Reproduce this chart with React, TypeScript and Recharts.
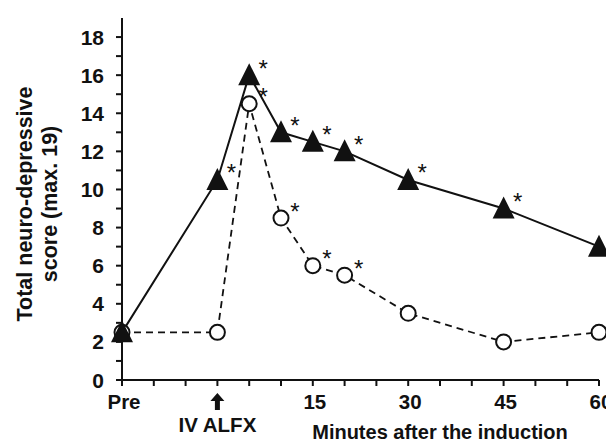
import React from 'react';
import { LineChart, Line, XAxis, YAxis } from 'recharts';

// minutes relative to IV ALFX injection (-15 = "Pre")
const minutes = [-15, 0, 5, 10, 15, 20, 30, 45, 60];
const triangleScores = [2.5, 10.5, 16, 13, 12.5, 12, 10.5, 9, 7];
const circleScores = [2.5, 2.5, 14.5, 8.5, 6, 5.5, 3.5, 2, 2.5];
const triangleSignificant = [false, true, true, true, true, true, true, true, false];
const circleSignificant = [false, false, true, true, true, true, false, false, false];

const xTickValues = [-15, -10, -5, 0, 5, 10, 15, 20, 25, 30, 35, 40, 45, 50, 55, 60];
const xTickLabels = ['Pre', '', '', 'IV ALFX', '', '', '15', '', '', '30', '', '', '45', '', '', '60'];
const injectionMinute = 0;
const yTickValues = [0, 1, 2, 3, 4, 5, 6, 7, 8, 9, 10, 11, 12, 13, 14, 15, 16, 17, 18];

const yLabelLines = ['Total neuro-depressive', 'score (max. 19)'];
const xTitle = 'Minutes after the induction';

const data = minutes.map((m, i) => ({
  minute: m,
  triangle: triangleScores[i],
  circle: circleScores[i],
  triSig: triangleSignificant[i],
  circSig: circleSignificant[i],
}));

const FONT = '"Liberation Sans", Arial, Helvetica, sans-serif';

const Star = ({ cx, cy }: { cx: number; cy: number }) => (
  <text x={cx + 14} y={cy + 1.5} textAnchor="middle" fontSize={24} fontFamily={FONT} fill="#111">
    *
  </text>
);

const TriangleDot = (props: any) => {
  const { cx, cy, payload, index } = props;
  if (cx == null || cy == null) return <g key={`t${index}`} />;
  return (
    <g key={`t${index}`}>
      <polygon points={`${cx},${cy - 12} ${cx - 11},${cy + 10} ${cx + 11},${cy + 10}`} fill="#111" />
      {payload.triSig && <Star cx={cx} cy={cy} />}
    </g>
  );
};

const CircleDot = (props: any) => {
  const { cx, cy, payload, index } = props;
  if (cx == null || cy == null) return <g key={`c${index}`} />;
  return (
    <g key={`c${index}`}>
      <circle cx={cx} cy={cy} r={7.5} fill="#fff" stroke="#111" strokeWidth={2} />
      {payload.circSig && <Star cx={cx} cy={cy} />}
    </g>
  );
};

const XTick = (props: any) => {
  const { x, y, payload } = props;
  const i = xTickValues.indexOf(payload.value);
  const label = xTickLabels[i];
  if (!label) return <g />;
  if (payload.value === injectionMinute) {
    return (
      <g>
        <polygon
          points={`${x},${y + 5} ${x - 7},${y + 13} ${x - 2.5},${y + 13} ${x - 2.5},${y + 22} ${x + 2.5},${y + 22} ${x + 2.5},${y + 13} ${x + 7},${y + 13}`}
          fill="#111"
        />
        <text x={x} y={y + 44} textAnchor="middle" fontSize={20.5} fontWeight="bold" fontFamily={FONT} fill="#111">
          {label}
        </text>
      </g>
    );
  }
  return (
    <text x={x + 2} y={y + 21} textAnchor="middle" fontSize={20.5} fontWeight="bold" fontFamily={FONT} fill="#111">
      {label}
    </text>
  );
};

const YTick = (props: any) => {
  const { x, y, payload } = props;
  if (payload.value % 2 !== 0) return <g />;
  return (
    <text x={x - 10} y={y} dy={7.5} textAnchor="end" fontSize={21} fontWeight="bold" fontFamily={FONT} fill="#111">
      {payload.value}
    </text>
  );
};

const YLabel = () => (
  <g>
    {yLabelLines.map((line, i) => (
      <text
        key={line}
        x={0}
        y={0}
        transform={`translate(${32 + i * 25}, 204) rotate(-90)`}
        textAnchor="middle"
        fontSize={21.5}
        fontWeight="bold"
        fontFamily={FONT}
        fill="#111"
      >
        {line}
      </text>
    ))}
  </g>
);

const XLabel = () => (
  <text x={440} y={439} textAnchor="middle" fontSize={20} fontWeight="bold" fontFamily={FONT} fill="#111">
    {xTitle}
  </text>
);

export default function App() {
  return (
    <div style={{ position: 'absolute', left: 0, top: 0, width: 606, height: 441, background: '#fff' }}>
      <LineChart width={606} height={441} data={data} margin={{ top: 18, right: 7, bottom: 0, left: 0 }}>
        <XAxis
          dataKey="minute"
          type="number"
          domain={[-15, 60]}
          ticks={xTickValues}
          interval={0}
          height={61}
          tickSize={6}
          axisLine={{ stroke: '#111', strokeWidth: 2 }}
          tickLine={{ stroke: '#111', strokeWidth: 2 }}
          tick={<XTick />}
          label={{ content: () => <XLabel /> }}
        />
        <YAxis
          type="number"
          domain={[0, 19]}
          ticks={yTickValues}
          interval={0}
          width={122}
          tickSize={6}
          axisLine={{ stroke: '#111', strokeWidth: 2 }}
          tickLine={{ stroke: '#111', strokeWidth: 2 }}
          tick={<YTick />}
          label={{ content: () => <YLabel /> }}
        />
        <Line
          dataKey="triangle"
          stroke="#111"
          strokeWidth={2}
          dot={false}
          activeDot={false}
          isAnimationActive={false}
        />
        <Line
          dataKey="circle"
          stroke="#111"
          strokeWidth={1.8}
          strokeDasharray="7 5"
          dot={CircleDot}
          activeDot={false}
          isAnimationActive={false}
        />
        <Line
          dataKey="triangle"
          stroke="none"
          dot={TriangleDot}
          activeDot={false}
          isAnimationActive={false}
        />
      </LineChart>
    </div>
  );
}
